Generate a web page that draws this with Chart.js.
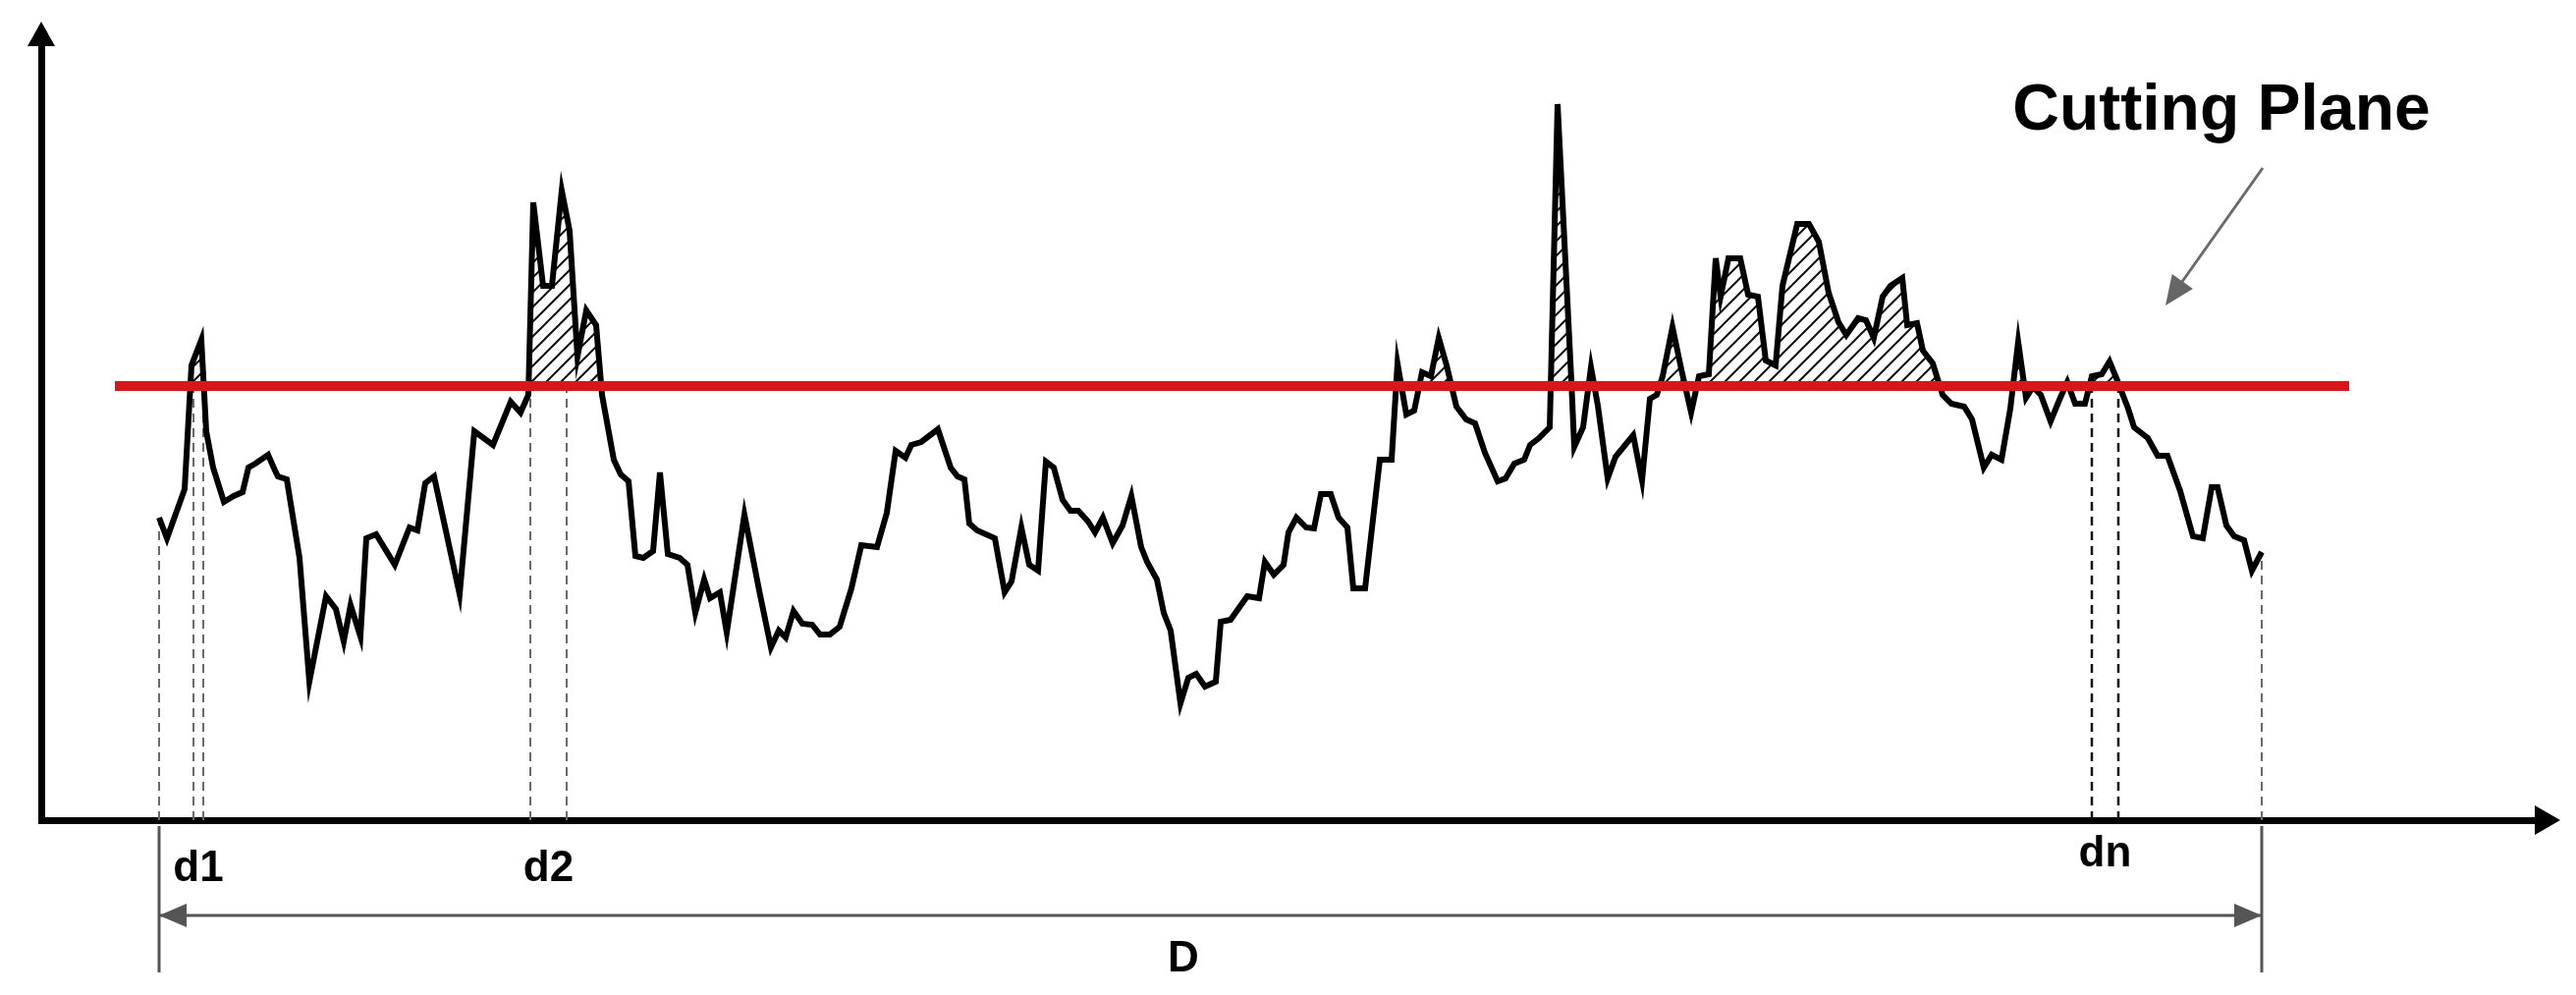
<!DOCTYPE html>
<html>
<head>
<meta charset="utf-8">
<script src="https://cdn.jsdelivr.net/npm/chart.js@4.4.0/dist/chart.umd.min.js"></script>
<style>
html, body { margin: 0; padding: 0; background: #fff; }
#wrap { width: 2623px; height: 1013px; }
</style>
</head>
<body>
<div id="wrap"><canvas id="profile"></canvas></div>
<script>
// surface profile: distance along the section and height
var profileX = [12.0,12.8,14.6,15.3,16.3,16.8,17.5,18.6,19.6,20.5,21.1,21.8,23.1,23.8,24.1,25.0,26.3,27.3,29.0,30.0,
  30.8,31.5,32.5,33.1,34.1,36.0,37.5,38.3,39.1,40.0,42.6,44.1,46.0,47.8,48.8,49.6,50.1,51.1,52.0,53.0,
  53.8,54.6,55.5,56.5,57.1,58.3,59.0,59.8,60.5,61.3,62.3,63.0,63.8,65.0,65.8,66.6,67.5,68.1,69.1,69.8,
  71.6,73.1,74.3,75.1,75.8,76.6,77.5,78.5,79.3,80.3,81.3,82.5,83.5,85.1,86.1,87.0,88.0,88.6,89.6,91.3,
  92.6,93.3,94.0,94.5,95.3,97.1,98.1,98.8,99.8,100.6,101.5,102.3,103.1,104.0,104.8,105.6,106.6,107.3,108.1,109.1,
  110.1,111.0,112.0,112.6,113.6,114.3,115.0,116.0,116.8,117.6,118.5,119.6,120.1,121.1,122.8,124.0,124.6,125.5,126.5,127.0,
  127.8,128.8,129.6,130.3,131.3,132.1,133.0,133.6,134.8,136.3,137.5,138.1,139.0,139.8,140.6,141.5,142.3,143.1,144.1,145.1,
  146.0,147.0,148.3,149.1,150.0,151.0,151.6,152.5,153.6,154.4,155.8,156.1,157.0,157.8,158.5,159.5,160.3,162.1,163.0,163.8,
  164.5,165.1,166.1,167.0,168.0,168.8,169.8,170.5,171.0,171.8,173.0,173.8,174.8,175.6,176.6,177.3,178.8,180.0,181.0,182.0,
  183.0,183.8,185.0,185.8,186.6,187.5,188.3,189.5,190.0,191.0,191.6,192.6,193.6,194.5,195.8,196.6,197.8,198.6,199.6,200.5,
  201.3,202.1,202.8,203.6,204.6,205.5,206.3,207.1,208.1,208.8,209.8,210.6,211.3,212.5,213.1,214.5,215.5,216.5,217.8,219.1,
  220.1,221.0,221.6,222.5,223.3,224.3,225.1,226.1];
var profileY = [30.8,28.7,33.7,46.3,48.9,39.6,35.9,32.4,33.0,33.4,35.9,36.3,37.2,35.6,35.0,34.7,26.7,14.1,22.8,21.5,
  18.2,21.9,18.7,28.7,29.1,26.0,29.8,29.5,34.3,35.0,23.0,39.6,38.2,42.6,41.5,43.3,62.9,54.4,54.4,64.1,
  60.0,47.2,51.9,50.4,43.3,36.7,35.2,34.5,26.9,26.7,27.4,35.4,27.1,26.7,26.0,21.1,24.5,22.6,23.2,19.1,
  31.1,23.4,17.6,19.3,18.6,21.3,20.0,19.9,18.9,18.9,19.7,23.6,28.0,27.8,31.3,37.6,36.9,38.2,38.5,39.8,
  35.9,35.0,34.7,30.2,29.5,28.7,23.2,24.3,29.8,26.0,25.4,36.5,35.9,32.6,31.5,31.5,30.4,29.3,30.8,28.2,
  30.0,33.0,27.8,26.3,24.5,21.1,19.3,11.9,14.5,14.9,13.6,14.1,20.2,20.4,22.8,22.6,26.3,25.0,26.0,29.3,
  30.8,29.8,29.7,33.2,33.2,30.8,29.8,23.6,23.6,36.7,36.7,46.5,41.3,41.7,45.6,45.2,49.1,46.3,42.1,40.8,
  40.4,37.4,34.5,34.8,36.3,36.7,38.2,38.9,40.0,72.9,44.8,38.0,40.0,46.1,42.2,34.8,37.0,39.2,34.6,42.9,
  43.3,45.2,50.2,45.9,41.5,45.2,45.4,57.2,53.3,57.2,57.2,53.5,53.3,46.8,46.3,54.4,60.7,60.7,58.9,53.7,
  50.7,49.4,51.1,50.9,49.1,53.3,54.4,55.2,50.4,50.6,47.8,46.5,43.3,42.4,42.1,40.8,35.9,37.2,36.7,41.9,
  48.7,43.0,44.1,43.3,40.6,42.8,44.6,42.4,42.4,45.2,45.4,46.7,45.0,41.9,40.0,38.9,37.1,37.1,33.5,28.9,
  28.7,33.9,33.9,30.0,28.9,28.5,25.4,27.3];

// cutting plane height and its drawn extent
var cutLevel = 44.2;
var planeExtent = [7.5, 235.0];

// where the profile crosses the plane (d1, d2, dn)
var crossX = [[15.5, 16.5], [49.8, 53.5], [208.8, 211.5]];
var crossNames = ['d1', 'd2', 'dn'];
var totalName = 'D';
var planeName = 'Cutting Plane';

var startX = profileX[0], endX = profileX[profileX.length - 1];
var startY = profileY[0], endY = profileY[profileY.length - 1];

// diagonal hatch for the part above the plane
var hatch = (function () {
  var c = document.createElement('canvas');
  c.width = 15; c.height = 15;
  var g = c.getContext('2d');
  g.strokeStyle = '#111';
  g.lineWidth = 2;
  g.beginPath();
  g.moveTo(-1, 16); g.lineTo(16, -1);
  g.moveTo(-1, 1); g.lineTo(1, -1);
  g.moveTo(14, 16); g.lineTo(16, 14);
  g.stroke();
  return g.createPattern(c, 'repeat');
})();

var profilePts = profileX.map(function (x, i) { return {x: x, y: profileY[i]}; });

function vline(x, y0, y1, color, dash, width) {
  return {
    data: [{x: x, y: y0}, {x: x, y: y1}],
    borderColor: color, borderWidth: width, borderDash: dash,
    pointRadius: 0, fill: false, clip: false, order: 3
  };
}

var datasets = [
  { // cutting plane
    data: [{x: planeExtent[0], y: cutLevel}, {x: planeExtent[1], y: cutLevel}],
    borderColor: '#d81818', borderWidth: 10, borderCapStyle: 'butt',
    pointRadius: 0, fill: false, order: 0
  },
  { // profile with hatching above the plane
    data: profilePts,
    borderColor: '#000', borderWidth: 6, borderJoinStyle: 'miter',
    pointRadius: 0, tension: 0,
    fill: {value: cutLevel, above: hatch, below: 'rgba(0,0,0,0)'},
    order: 1
  },
  vline(startX, 0, startY, '#6a6a6a', [9, 6], 2),
  vline(endX, 0, endY, '#6a6a6a', [9, 6], 2)
];
crossX.forEach(function (pair, k) {
  var dark = k === crossX.length - 1;
  pair.forEach(function (x) {
    datasets.push(vline(x, 0, cutLevel, dark ? '#111' : '#6a6a6a', [9, 6], dark ? 2.5 : 2));
  });
});
// dimension D below the axis
datasets.push(vline(startX, -0.6, -15.5, '#555', [], 3));
datasets.push(vline(endX, -0.6, -15.5, '#555', [], 3));
datasets.push({
  data: [{x: startX, y: -9.7}, {x: endX, y: -9.7}],
  borderColor: '#555', borderWidth: 3, pointRadius: 0, fill: false, clip: false, order: 3
});
// pointer to the plane
datasets.push({
  data: [{x: 226.2, y: 66.4}, {x: 217.2, y: 53.7}],
  borderColor: '#6a6a6a', borderWidth: 3, pointRadius: 0, fill: false, clip: false, order: 3
});

function head(ctx, tx, ty, fx, fy, len, half, color) {
  var a = Math.atan2(ty - fy, tx - fx);
  ctx.save();
  ctx.fillStyle = color;
  ctx.translate(tx, ty);
  ctx.rotate(a);
  ctx.beginPath();
  ctx.moveTo(0, 0);
  ctx.lineTo(-len, -half);
  ctx.lineTo(-len, half);
  ctx.closePath();
  ctx.fill();
  ctx.restore();
}

var sketch = {
  id: 'sketch',
  afterDraw: function (chart) {
    var ctx = chart.ctx, a = chart.chartArea;
    var sx = chart.scales.x, sy = chart.scales.y;
    var px = function (v) { return sx.getPixelForValue(v); };
    var py = function (v) { return sy.getPixelForValue(v); };

    // axis arrows
    head(ctx, a.left, a.top - 23, a.left, a.top, 25, 14, '#000');
    head(ctx, a.right + 25, a.bottom, a.right, a.bottom, 26, 15, '#000');

    // dimension arrows
    head(ctx, px(startX), py(-9.7), px(endX), py(-9.7), 28, 12, '#555');
    head(ctx, px(endX), py(-9.7), px(startX), py(-9.7), 28, 12, '#555');
    // pointer head
    head(ctx, px(216.3), py(52.4), px(226.2), py(66.4), 30, 13, '#666');

    ctx.save();
    ctx.fillStyle = '#000';
    ctx.textAlign = 'center';
    ctx.textBaseline = 'middle';
    ctx.font = 'bold 44px "Liberation Sans", Arial, sans-serif';
    crossX.forEach(function (pair, k) {
      var mid = (pair[0] + pair[1]) / 2;
      var dy = k === crossX.length - 1 ? -3.5 : -5.0;
      ctx.fillText(crossNames[k], px(mid), py(dy));
    });
    ctx.fillText(totalName, px(116.3), py(-14.2));
    ctx.font = 'bold 66px "Liberation Sans", Arial, sans-serif';
    ctx.fillText(planeName, px(222.0), py(72.1));
    ctx.restore();
  }
};

new Chart(document.getElementById('profile'), {
  type: 'line',
  data: {datasets: datasets},
  options: {
    responsive: true,
    maintainAspectRatio: false,
    animation: false,
    events: [],
    layout: {padding: {left: 42, right: 41, top: 45, bottom: 178}},
    plugins: {legend: {display: false}, tooltip: {enabled: false}},
    scales: {
      x: {
        type: 'linear', min: 0, max: 254,
        grid: {display: false, drawTicks: false},
        ticks: {display: false},
        border: {display: true, color: '#000', width: 7}
      },
      y: {
        type: 'linear', min: 0, max: 79,
        grid: {display: false, drawTicks: false},
        ticks: {display: false},
        border: {display: true, color: '#000', width: 7}
      }
    }
  },
  plugins: [sketch]
});
</script>
</body>
</html>
